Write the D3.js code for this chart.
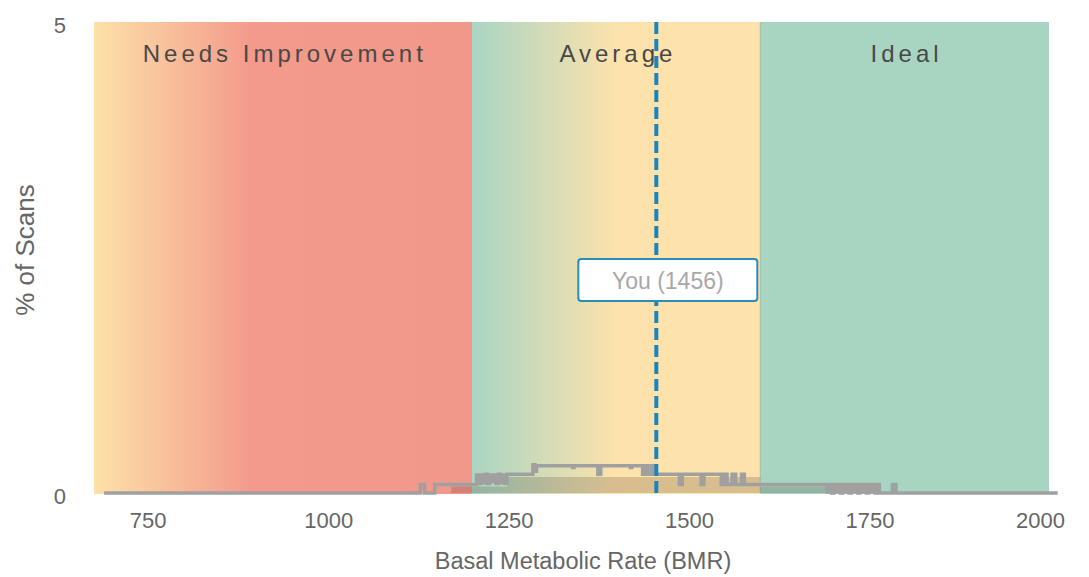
<!DOCTYPE html>
<html>
<head>
<meta charset="utf-8">
<script src="https://cdn.jsdelivr.net/npm/d3@7"></script>
<style>
  body { margin: 0; background: #fff; }
  text { font-family: "Liberation Sans", Arial, sans-serif; }
</style>
</head>
<body>
<script>
var width = 1089, height = 577;

// zones of the BMR range
var zoneNames = ["Needs Improvement", "Average", "Ideal"];
var zoneStart = [677, 1200, 1600];
var zoneEnd = [1200, 1600, 2000];

// tick labels
var xTicks = [750, 1000, 1250, 1500, 1750, 2000];
var yTicks = [0, 5];

// the user's value
var youValue = 1456;

// histogram of scans (step starts, % of scans)
var histBmr = [691, 1129, 1135, 1149,
  1207, 1210, 1213, 1216, 1219, 1222, 1225, 1228, 1231, 1234, 1237, 1240, 1243, 1246, 1249,
  1285, 1288, 1290, 1340, 1342,
  1375, 1379, 1420, 1422,
  1437, 1441, 1444, 1449, 1452,
  1488, 1492, 1518, 1522, 1546, 1550, 1554, 1561, 1566, 1574, 1578,
  1693, 1696, 1699, 1702, 1705, 1708, 1711, 1714, 1717, 1720, 1723, 1726, 1729, 1732,
  1735, 1738, 1741, 1744, 1747, 1750, 1753, 1756, 1759, 1762,
  1765, 1783, 1788, 2012];
var histPct = [0, 0.09, 0, 0.09,
  0.19, 0.10, 0.19, 0.11, 0.20, 0.10, 0.19, 0.12, 0.19, 0.10, 0.20, 0.11, 0.19, 0.10, 0.20,
  0.30, 0.23, 0.29, 0.27, 0.29,
  0.20, 0.29, 0.27, 0.29,
  0.20, 0.29, 0.20, 0.29, 0.20,
  0.09, 0.20, 0.09, 0.20, 0.09, 0.20, 0.09, 0.20, 0.09, 0.20, 0.09,
  0.01, 0.09, 0, 0.09, 0.01, 0.09, 0, 0.09, 0.01, 0.09, 0, 0.09, 0.01, 0.09,
  0, 0.09, 0.01, 0.09, 0, 0.09, 0.01, 0.09, 0, 0.09,
  0, 0.09, 0, 0];

// coarser shaded distribution under the line
var shadeBmr = [1172, 1250, 1600, 1693];
var shadePct = [0.07, 0.17, 0.07, 0.07];

var svg = d3.select("body")
  .append("svg")
  .attr("width", width)
  .attr("height", height);

var xScale = d3.scaleLinear()
  .domain([677, 2000])
  .range([94, 1049]);

var yScale = d3.scaleLinear()
  .domain([0, 5])
  .range([493, 22]);

//Gradients for the zones
var defs = svg.append("defs");
var g1 = defs.append("linearGradient").attr("id", "gradNeeds");
g1.append("stop").attr("offset", "0%").attr("stop-color", "#fde1a8");
g1.append("stop").attr("offset", "42%").attr("stop-color", "#f39a8b");
g1.append("stop").attr("offset", "100%").attr("stop-color", "#f2988a");
var g2 = defs.append("linearGradient").attr("id", "gradAvg");
g2.append("stop").attr("offset", "0%").attr("stop-color", "#a9d5c3");
g2.append("stop").attr("offset", "50%").attr("stop-color", "#fde2ab");
g2.append("stop").attr("offset", "100%").attr("stop-color", "#fde2ab");
var zoneFill = ["url(#gradNeeds)", "url(#gradAvg)", "#a8d5c2"];

//Zone bands
svg.selectAll("rect.zone")
  .data(zoneNames)
  .enter()
  .append("rect")
  .attr("class", "zone")
  .attr("x", function(d, i) { return xScale(zoneStart[i]); })
  .attr("y", yScale(5))
  .attr("width", function(d, i) { return xScale(zoneEnd[i]) - xScale(zoneStart[i]); })
  .attr("height", yScale(0) + 1 - yScale(5))
  .attr("fill", function(d, i) { return zoneFill[i]; });

//Zone borders
svg.selectAll("line.border")
  .data([1200, 1600])
  .enter()
  .append("line")
  .attr("x1", function(d) { return xScale(d); })
  .attr("x2", function(d) { return xScale(d); })
  .attr("y1", yScale(5))
  .attr("y2", yScale(0))
  .attr("stroke", "#8a9a80")
  .attr("stroke-opacity", 0.5)
  .attr("stroke-width", 1);

//Zone labels
svg.selectAll("text.zoneLabel")
  .data(zoneNames)
  .enter()
  .append("text")
  .attr("x", function(d, i) { return (xScale(zoneStart[i]) + xScale(zoneEnd[i])) / 2 + 2; })
  .attr("y", 62)
  .attr("text-anchor", "middle")
  .style("font-size", "24px")
  .style("letter-spacing", "4px")
  .attr("fill", "#484848")
  .text(function(d) { return d; });

//Shaded distribution
var shadeData = shadeBmr.map(function(b, i) { return {bmr: b, pct: shadePct[i]}; });
var shadeArea = d3.area()
  .curve(d3.curveStepAfter)
  .x(function(d) { return xScale(d.bmr); })
  .y0(yScale(0))
  .y1(function(d) { return yScale(d.pct); });
svg.append("path")
  .datum(shadeData)
  .attr("d", shadeArea)
  .attr("fill", "#3a2418")
  .attr("fill-opacity", 0.19);

//Histogram step line
var histData = histBmr.map(function(b, i) { return {bmr: b, pct: histPct[i]}; });
var histLine = d3.line()
  .curve(d3.curveStepAfter)
  .x(function(d) { return xScale(d.bmr); })
  .y(function(d) { return yScale(d.pct); });
svg.append("path")
  .datum(histData)
  .attr("d", histLine)
  .attr("fill", "none")
  .attr("stroke", "#a0a0a0")
  .attr("stroke-width", 3.5);

//You line
svg.append("line")
  .attr("x1", xScale(youValue))
  .attr("x2", xScale(youValue))
  .attr("y1", yScale(5))
  .attr("y2", yScale(0) + 2)
  .attr("stroke", "#1984bd")
  .attr("stroke-width", 4)
  .attr("stroke-dasharray", "12,5");

//You box
svg.append("rect")
  .attr("x", xScale(youValue) - 78)
  .attr("y", 259)
  .attr("width", 179)
  .attr("height", 42)
  .attr("rx", 3)
  .attr("fill", "#fff")
  .attr("stroke", "#2b8cba")
  .attr("stroke-width", 2);
svg.append("text")
  .attr("x", xScale(youValue) + 11.5)
  .attr("y", 289)
  .attr("text-anchor", "middle")
  .style("font-size", "23px")
  .attr("fill", "#a8a8a8")
  .text("You (" + youValue + ")");

//X axis
var xAxis = d3.axisBottom(xScale)
  .tickValues(xTicks)
  .tickSize(0)
  .tickFormat(d3.format("d"));
var gx = svg.append("g")
  .attr("transform", "translate(0," + 509 + ")")
  .call(xAxis);
gx.select(".domain").remove();
gx.selectAll("text")
  .style("font-size", "22px")
  .style("font-family", "'Liberation Sans', Arial, sans-serif")
  .attr("fill", "#666")
  .attr("dy", "0.71em")
  .attr("dx", function(d) { return d == 2000 ? -9 : 1; });

//Y axis
var yAxis = d3.axisLeft(yScale)
  .tickValues(yTicks)
  .tickSize(0)
  .tickFormat(d3.format("d"));
var gy = svg.append("g")
  .attr("transform", "translate(66,3)")
  .call(yAxis);
gy.select(".domain").remove();
gy.selectAll("text")
  .style("font-size", "22px")
  .style("font-family", "'Liberation Sans', Arial, sans-serif")
  .attr("fill", "#666")
  .attr("x", 0);

//X axis label
svg.append("text")
  .attr("x", 583)
  .attr("y", 569)
  .attr("text-anchor", "middle")
  .style("font-size", "23.5px")
  .attr("fill", "#666")
  .text("Basal Metabolic Rate (BMR)");

//Y axis label
svg.append("text")
  .attr("transform", "translate(34,250) rotate(270)")
  .attr("text-anchor", "middle")
  .style("font-size", "26px")
  .attr("fill", "#666")
  .text("% of Scans");
</script>
</body>
</html>
